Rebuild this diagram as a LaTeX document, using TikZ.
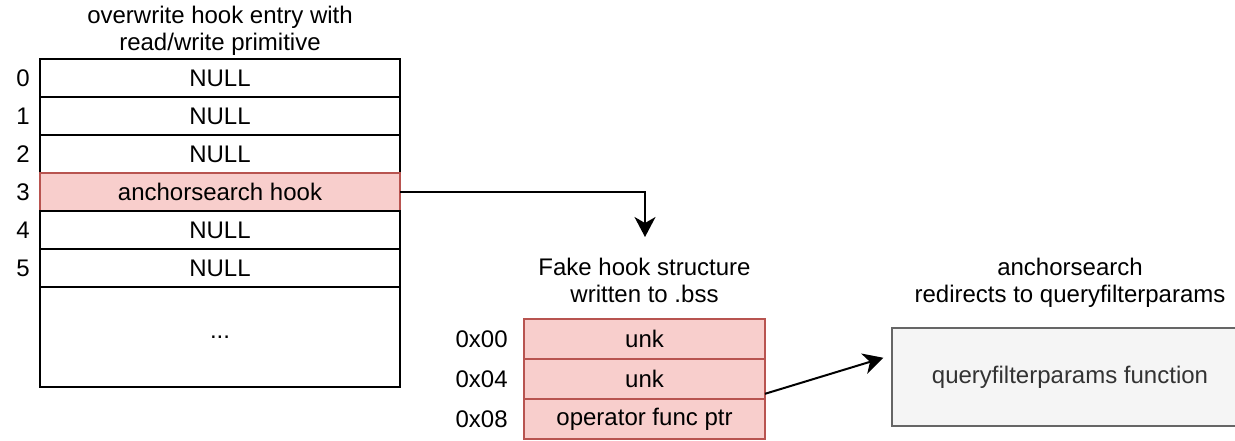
\documentclass[tikz,border=0pt]{standalone}
\usepackage{fontspec}
\setmainfont{Liberation Sans}
\usepackage{tikz}
\usetikzlibrary{arrows.meta,positioning}

\definecolor{hookpink}{HTML}{F8CECC}
\definecolor{hookred}{HTML}{B85450}
\definecolor{funcfill}{HTML}{F5F5F5}
\definecolor{funcline}{HTML}{666666}
\definecolor{functext}{HTML}{333333}

\begin{document}
\begin{tikzpicture}[x=0.5pt, y=-0.5pt, node distance=0pt, font=\fontsize{12}{13.5}\selectfont]
\tikzset{
    slot/.style={rectangle, draw=black, fill=white, line width=1pt, minimum width=180pt, minimum height=19pt, inner sep=0pt, outer sep=0pt},
    hookslot/.style={slot, draw=hookred, fill=hookpink},
    field/.style={hookslot, minimum width=120.5pt, minimum height=20pt},
    funcbox/.style={rectangle, draw=funcline, fill=funcfill, text=functext, line width=1pt, minimum width=178pt, minimum height=49pt, inner sep=0pt, outer sep=0pt},
    idx/.style={inner sep=0pt},
    mytitle/.style={align=center, inner sep=0pt},
    myarrow/.style={-{Stealth[length=10pt, width=10.5pt, inset=3pt]}, line width=1pt}
}
\useasboundingbox (0,0) rectangle (1235,440);

% hook table
\node[slot, anchor=north west] (r0) at (40,59) {NULL};
\node[slot, below=of r0] (r1) {NULL};
\node[slot, below=of r1] (r2) {NULL};
\node[hookslot, below=of r2] (r3) {anchorsearch hook};
\node[slot, below=of r3] (r4) {NULL};
\node[slot, below=of r4] (r5) {NULL};
\node[slot, minimum height=50pt, below=of r5] (rmore) {...};
\node[mytitle, above=1.8pt of r0] (tabtitle) {overwrite hook entry with\\read/write primitive};

\node[idx, left=5pt of r0] (i0) {0};
\node[idx, left=5pt of r1] (i1) {1};
\node[idx, left=5pt of r2] (i2) {2};
\node[idx, left=5pt of r3] (i3) {3};
\node[idx, left=5pt of r4] (i4) {4};
\node[idx, left=5pt of r5] (i5) {5};

% fake hook in .bss
\node[field, anchor=north west] (f00) at (524,319) {unk};
\node[field, below=of f00] (f04) {unk};
\node[field, below=of f04] (f08) {operator func ptr};
\node[mytitle, above=8pt of f00] (faketitle) {Fake hook structure\\written to .bss};

\node[idx, left=8pt of f00] (o00) {0x00};
\node[idx, left=8pt of f04] (o04) {0x04};
\node[idx, left=8pt of f08] (o08) {0x08};

% target function
\node[funcbox, anchor=north west] (qfp) at (892,328) {queryfilterparams function};
\node[mytitle, above=10pt of qfp] (qfptitle) {anchorsearch\\redirects to queryfilterparams};

\coordinate (drop) at (645,237);
\draw[myarrow] (r3.east) -| (drop);
\draw[myarrow, shorten >=4.5pt] (f04.-7.6) -- (qfp.173);

\end{tikzpicture}
\end{document}
